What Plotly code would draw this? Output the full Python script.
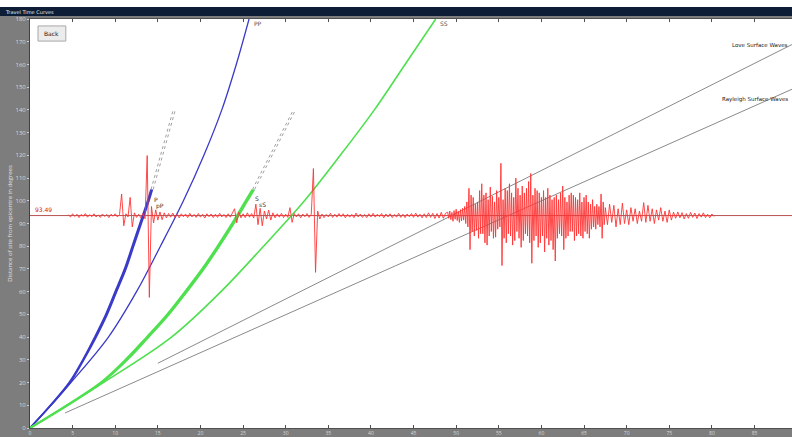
import plotly.graph_objects as go

# ---------------- data ----------------
# travel-time curves: time in minutes, distance in degrees
P_dist = [0, 10, 20, 30, 40, 50, 60, 70, 80, 90, 100, 105]
P_time = [0, 2.4, 4.6, 6.2, 7.6, 8.9, 10.0, 11.1, 12.0, 12.9, 13.8, 14.2]
pP_time = [0, 2.45, 4.7, 6.3, 7.75, 9.05, 10.15, 11.25, 12.15, 13.05, 13.95, 14.35]
Pdiff_dist = [105, 140]
Pdiff_time = [14.2, 16.8]
pPdiff_time = [14.45, 17.05]

S_dist = [0, 10, 20, 30, 40, 50, 60, 70, 80, 90, 100, 105]
S_time = [0, 4.3, 8.3, 11.2, 13.7, 16.1, 18.2, 20.2, 22.0, 23.7, 25.3, 26.1]
sS_time = [0, 4.4, 8.45, 11.4, 13.9, 16.3, 18.4, 20.4, 22.2, 23.9, 25.5, 26.3]
Sdiff_dist = [105, 140]
Sdiff_time = [26.1, 30.9]
sSdiff_time = [26.35, 31.15]

PP_dist = [0, 20, 40, 60, 80, 100, 120, 140, 160, 180]
PP_time = [0, 4.8, 9.2, 12.5, 15.3, 18.0, 20.4, 22.5, 24.2, 25.7]
SS_dist = [0, 20, 40, 60, 80, 100, 120, 140, 160, 180]
SS_time = [0, 8.6, 16.6, 22.4, 27.4, 32.2, 36.4, 40.4, 44.0, 47.6]

love_time = [15.0, 90.0]
love_dist = [28.5, 169.9]
rayleigh_time = [4.1, 90.0]
rayleigh_dist = [6.6, 150.1]

station_dist = 93.49
station_label = "93.49"

# seismogram: amplitude (degrees of offset) per segment, with segment start time and sample step (min)
seg_start = [4.5, 13.75, 16.25, 24.0, 34.25, 49.0, 67.75]
seg_dt = [0.25, 0.25, 0.25, 0.25, 0.25, 0.125, 0.25]
amp_pre_p = [0.3, -0.6, 0.8, -0.4, 0.6, -0.9, 0.5, -0.3, 0.9, -0.7, 0.4, -0.5, 0.8, -0.6, 0.3,
             -0.8, 0.7, -0.4, 0.5, -0.9, 0.6, -0.3, 0.8, -0.6, 0.4,
             9.5, -4.5, 0.8, -0.6, 8.0, -5.0, 1.2, -0.8, 0.6, -1.0, 0.9, -1.4]
amp_p_arrival = [26.4, -36.0, 4.0, -3.2, 2.5, -2.0, 1.6, -1.8, 1.2, -1.0]
amp_quiet1 = [0.9, -0.7, 1.1, -0.8, 0.6, -1.0, 0.8, -0.5, 0.7, -0.9, 1.0, -0.6, 0.5, -0.8, 0.9,
              -0.7, 0.6, -1.1, 0.8, -0.5, 0.7, -0.9, 0.6, -0.8, 1.0, -0.6, 0.5, -0.9, 0.8, -0.7, 1.2]
amp_s_arrival = [3.0, -3.2, 1.5, -1.0, 0.8, -0.9, 1.2, -0.7, 0.9, -1.1,
                 5.0, -4.0, 3.2, -4.5, 2.0, -1.5, 2.4, -2.0, 1.2, -1.0,
                 0.8, -0.7, 1.0, -0.9, 0.6, -0.8, 3.5, -3.0,
                 0.9, -0.6, 0.8, -1.0, 0.7, -0.5, 0.9, -0.8, 0.6,
                 20.7, -25.0, 2.0, -1.5]
amp_quiet2 = [0.7, -0.9, 0.5, -0.6, 1.0, -0.8, 0.6, -0.7, 0.9, -0.5,
              0.8, -1.0, 0.6, -0.7, 0.5, -0.9, 1.1, -0.6, 0.7, -0.8,
              0.5, -0.9, 0.8, -0.6, 1.0, -0.7, 0.6, -0.5, 0.9, -1.0,
              0.7, -0.6, 0.8, -0.9, 0.5, -0.7, 1.0, -0.8, 0.6, -0.9,
              0.7, -0.5, 0.9, -0.8, 1.1, -0.7, 0.6, -1.0, 0.8, -0.9,
              1.2, -0.8, 1.0, -1.3, 0.9, -1.1, 1.4, -1.2, 1.0]
amp_surface = [1.5, -1.2, 2.0, -1.8, 1.4, -2.5, 2.2, -1.6, 2.8, -2.2, 1.9, -3.0, 2.6, -2.4, 3.2, -2.0,
               4.0, -3.5, 6.0, -5.0, 12.0, -15.0, 9.0, -7.0,
               8.0, -9.0, 5.0, -6.5, 6.0, -10.0, 11.0, -8.0, 14.0, -8.0, 9.0, -12.0,
               10.0, -13.0, 7.0, -9.0, 12.5, -7.0, 8.5, -10.0, 6.0, -9.5, 11.0, -6.0,
               8.0, -5.0, 23.0, -22.0,
               7.0, -10.0, 12.0, -12.0, 11.0, -8.0, 14.0, -9.0, 10.0, -13.0, 8.0, -11.0,
               16.5, -7.0, 12.0, -10.0, 9.0, -14.0, 13.0, -11.0, 10.0, -8.0, 12.0, -9.0,
               15.0, -12.0, 18.5, -21.0,
               9.0, -11.0, 12.0, -9.0, 11.0, -14.0, 10.0, -12.0, 8.0, -9.0,
               11.0, -16.0, 8.0, -10.0, 12.0, -13.0, 9.0, -11.0, 7.0, -15.0,
               8.0, -20.0,
               9.0, -10.0, 7.0, -8.0, 10.0, -9.0, 13.0, -15.0, 8.0, -10.0, 6.0, -9.0, 9.0, -7.0,
               10.0, -7.0, 9.0, -11.0, 8.0, -9.0, 7.0, -8.0, 10.0, -9.0, 6.0, -10.0, 8.0, -7.0,
               9.0, -8.0, 6.0, -10.0, 5.0, -6.0, 7.0, -5.0, 4.0, -6.0, 5.0, -4.0, 4.0, -5.0,
               9.5, -10.0, 6.0, -4.0, 3.5]
amp_coda = [-4.0, 5.0, -3.0, 4.5, -5.0, 3.0, -4.0, 5.5, -3.5, 2.5,
            -4.0, 3.5, -2.5, 3.0, -3.5, 2.0, -2.5, 5.7, -3.0, 4.5,
            -2.5, 3.0, -3.5, 2.5, -2.0, 3.5, -2.5, 2.0, -3.0, 2.5,
            -2.0, 1.5, -1.2, 1.6, -1.0, 1.3, -1.5, 0.9, -1.2, 1.4,
            -0.8, 1.1, -1.3, 0.9, -0.7, 1.2, -0.9, 0.6, -1.0, 0.7, -0.4]

x_ticks = list(range(0, 90, 5))
y_ticks = list(range(0, 190, 10))

# ---------------- build ----------------
segments = [amp_pre_p, amp_p_arrival, amp_quiet1, amp_s_arrival, amp_quiet2, amp_surface, amp_coda]
seis_t, seis_y = [], []
for start, dt, seg in zip(seg_start, seg_dt, segments):
    for i, a in enumerate(seg):
        seis_t.append(start + i * dt)
        seis_y.append(station_dist + a)

BLUE = "#3a3ac8"
GREEN = "#4ee04e"
GREY = "#8a8a8a"

fig = go.Figure()

def line(x, y, color, width, dash="solid", shape="spline"):
    fig.add_trace(go.Scatter(x=x, y=y, mode="lines", line=dict(color=color, width=width, dash=dash, shape=shape),
                             hoverinfo="skip", showlegend=False))

# station distance line
line([0, 90], [station_dist, station_dist], "#b85050", 1, shape="linear")
# surface waves
line(love_time, love_dist, GREY, 1, shape="linear")
line(rayleigh_time, rayleigh_dist, GREY, 1, shape="linear")
# diffracted (dotted)
line(Pdiff_time, Pdiff_dist, "#a0a0a0", 1, "dot", "linear")
line(pPdiff_time, Pdiff_dist, "#a0a0a0", 1, "dot", "linear")
line(Sdiff_time, Sdiff_dist, "#a0a0a0", 1, "dot", "linear")
line(sSdiff_time, Sdiff_dist, "#a0a0a0", 1, "dot", "linear")
# body waves
line(PP_time, PP_dist, BLUE, 1.3)
line(SS_time, SS_dist, GREEN, 1.6)
line(P_time, P_dist, BLUE, 1.8)
line(pP_time, P_dist, BLUE, 1.8)
line(S_time, S_dist, GREEN, 2)
line(sS_time, S_dist, GREEN, 2)
# seismogram
line(seis_t, seis_y, "#ff3434", 0.9, shape="linear")

def txt(x, y, s, color="#303030", size=6, xanchor="left", yanchor="middle", xref="x", yref="y"):
    fig.add_annotation(x=x, y=y, text=s, showarrow=False, xanchor=xanchor, yanchor=yanchor,
                       xref=xref, yref=yref, font=dict(size=size, color=color, family="DejaVu Sans"))

txt(PP_time[-1] + 0.3, 178, "PP", color="#505050")
txt(SS_time[-1] + 0.3, 178, "SS", color="#505050")
txt(P_time[-1] + 0.1, 100.5, "P")
txt(P_time[-1] + 0.3, 97.5, "pP")
txt(S_time[-1] + 0.1, 101, "S")
txt(S_time[-1] + 0.5, 98.2, "sS")
txt(0.998, 168.6, "Love Surface Waves", color="#202020", size=5.5, xanchor="right", xref="paper")
txt(0.998, 144.4, "Rayleigh Surface Waves", color="#202020", size=5.5, xanchor="right", xref="paper")
txt(0.3, station_dist + 0.4, station_label, color="#d02020", yanchor="bottom")

# window chrome: white strip, title bar, back button
fig.add_shape(type="rect", xref="paper", yref="paper", x0=-0.05, x1=1.01, y0=1.0293, y1=1.06,
              fillcolor="white", line=dict(width=0), layer="above")
fig.add_shape(type="rect", xref="paper", yref="paper", x0=-0.05, x1=1.01, y0=1.0073, y1=1.0293,
              fillcolor="#0d1d35", line=dict(width=0), layer="above")
txt(-0.036, 1.0183, "Travel Time Curves", color="#e8e8e8", size=5, xref="paper", yref="paper")
fig.add_shape(type="rect", xref="paper", yref="paper", x0=0.0105, x1=0.047, y0=0.946, y1=0.983,
              fillcolor="#ececec", line=dict(width=1, color="#a8a8a8"), layer="above")
txt(0.0288, 0.9645, "Back", color="#202020", size=6, xanchor="center", xref="paper", yref="paper")

fig.update_layout(
    width=792, height=437,
    margin=dict(l=30, r=0, t=19, b=9, autoexpand=False),
    paper_bgcolor="#7d7d7d",
    plot_bgcolor="white",
    showlegend=False,
    xaxis=dict(range=[0, 89.4], tickvals=x_ticks, ticks="inside", ticklen=3, tickcolor="#505050",
               showgrid=False, zeroline=False, showline=True, linecolor="#505050", mirror="ticks",
               tickfont=dict(size=5, color="#d8d8d8"), ticklabelstandoff=0),
    yaxis=dict(range=[0, 180], tickvals=y_ticks, ticks="outside", ticklen=2, tickcolor="#d0d0d0",
               showgrid=False, zeroline=False, showline=True, linecolor="#404040", mirror=True,
               tickfont=dict(size=6, color="#d8d8d8"),
               title=dict(text="Distance of site from epicentre in degrees", standoff=2,
                          font=dict(size=6, color="#e0e0e0"))),
)

fig.write_html("out.html", config={"displayModeBar": False},
               post_script="document.body.style.margin='0px';document.body.style.overflow='hidden';")
